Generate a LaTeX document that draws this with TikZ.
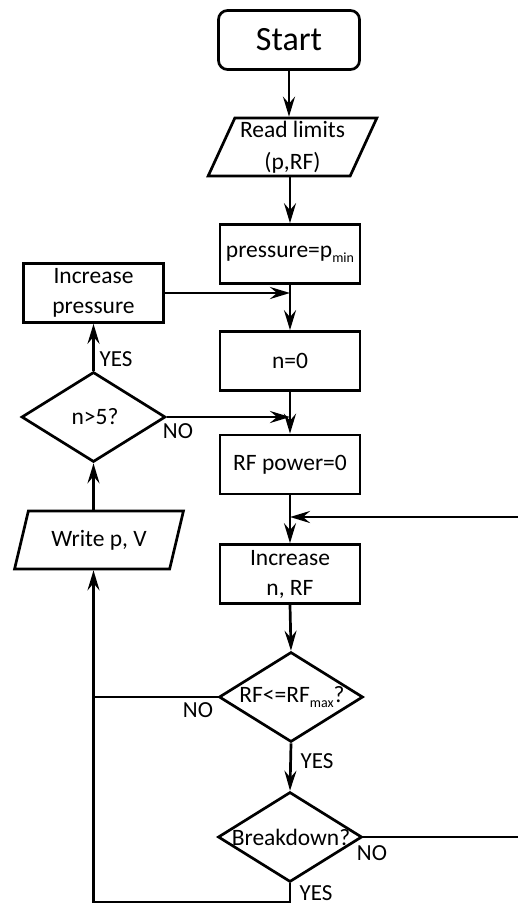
\documentclass[tikz,border=0pt]{standalone}
\usepackage{fontspec}
\setmainfont{Carlito}
\usetikzlibrary{shapes.geometric,arrows.meta}

\newcommand{\lowsub}[1]{\raisebox{-0.22em}{\fontsize{14}{14}\selectfont #1}}

\begin{document}
\begin{tikzpicture}[x=1pt,y=-1pt,
  every node/.style={font=\fontsize{23.5}{30}\selectfont, inner sep=0pt, align=center},
  flow/.style={line width=2.7pt},
  arr/.style={flow,-{Stealth[length=20pt,width=12pt,inset=7pt]}},
  proc/.style={draw, line width=2.7pt, minimum width=140pt, minimum height=59pt},
  io/.style={draw, line width=2.7pt, trapezium, trapezium left angle=65,
    trapezium right angle=115, trapezium stretches=true,
    minimum width=169pt, minimum height=58pt},
  dec/.style={draw, line width=2.7pt, diamond, minimum width=144pt, minimum height=90pt},
  lbl/.style={font=\fontsize{23}{23}\selectfont}
]
\useasboundingbox (0,0) rectangle (517,907);

% main column
\node[draw, line width=2.7pt, rounded corners=9pt, minimum width=141pt,
      minimum height=59pt, font=\fontsize{34}{34}\selectfont] (start) at (289,40) {Start};
\node[io, font=\fontsize{23.5}{32}\selectfont] (read) at (292.5,147) {Read limits\\(p,RF)};
\node[proc] (pmin) at (290,254) {pressure=p\lowsub{min}};
\node[proc] (n0) at (290,361) {n=0};
\node[proc] (rfp) at (290,464.5) {RF power=0};
\node[proc] (incn) at (290,574) {Increase\\n, RF};
\node[dec] (rfmax) at (291,697) {};
\node (rfmaxt) at (292,697) {RF<=RF\lowsub{max}?};
\node[dec] (bd) at (290,837) {};
\node (bdt) at (291,837) {Breakdown?};

% left column
\node[proc] (incp) at (93.5,293) {Increase\\pressure};
\node[dec] (n5) at (93.5,417) {};
\node (n5t) at (95,417) {n>5?};
\node[io] (write) at (99,540) {Write p, V};

% loop corners
\coordinate (bl) at (93.5,902);
\coordinate (re) at (520,517);

% connectors
\draw[arr] (start.south) -- (start.south |- read.north);
\draw[arr] (read.south -| pmin.north) -- (pmin.north);
\draw[arr] (pmin.south) -- (n0.north);
\draw[arr] (n0.south) -- (rfp.north);
\draw[arr] (rfp.south) -- (incn.north);
\draw[arr] (incn.south) -- (rfmax.north);
\draw[arr] (rfmax.south) -- (bd.north);

\draw[arr] (incp.east) -- (incp.east -| n0.north);
\draw[arr] (n5.east) -- (n5.east -| rfp.north);
\draw[arr] (n5.north) -- (incp.south);
\draw[arr] (write.north -| n5.south) -- (n5.south);

\draw[arr] (bd.east) -| (re) -- (re -| incn.north);
\draw[arr] (bd.south) |- (bl) -- (bl |- write.south);
\draw[flow] (rfmax.west) -- (rfmax.west -| bl);

% branch labels
\node[lbl] (l1) at (116,359) {YES};
\node[lbl] (l2) at (178,431) {NO};
\node[lbl] (l3) at (198,710) {NO};
\node[lbl] (l4) at (317,761) {YES};
\node[lbl] (l5) at (372,853) {NO};
\node[lbl] (l6) at (316,893) {YES};
\end{tikzpicture}
\end{document}
